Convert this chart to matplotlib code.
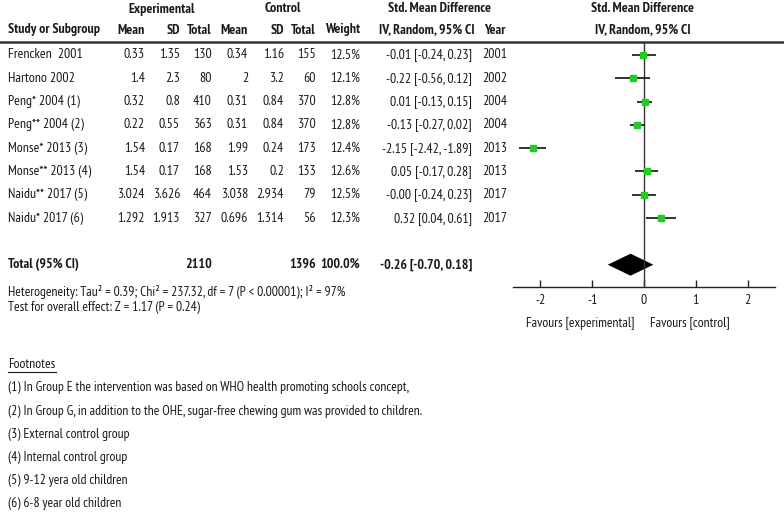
import matplotlib
matplotlib.use("Agg")
import matplotlib.pyplot as plt

plt.rcParams["font.family"] = ["PT Sans Narrow", "Archivo Narrow", "DejaVu Sans"]
plt.rcParams["font.stretch"] = "condensed"
plt.rcParams["font.size"] = 10

studies = ["Frencken  2001", "Hartono 2002", "Peng* 2004 (1)", "Peng** 2004 (2)",
           "Monse* 2013 (3)", "Monse** 2013 (4)", "Naidu** 2017 (5)", "Naidu* 2017 (6)"]
exp_mean = [0.33, 1.4, 0.32, 0.22, 1.54, 1.54, 3.024, 1.292]
exp_sd = [1.35, 2.3, 0.8, 0.55, 0.17, 0.17, 3.626, 1.913]
exp_n = [130, 80, 410, 363, 168, 168, 464, 327]
ctl_mean = [0.34, 2, 0.31, 0.31, 1.99, 1.53, 3.038, 0.696]
ctl_sd = [1.16, 3.2, 0.84, 0.84, 0.24, 0.2, 2.934, 1.314]
ctl_n = [155, 60, 370, 370, 173, 133, 79, 56]
weight = [12.5, 12.1, 12.8, 12.8, 12.4, 12.6, 12.5, 12.3]
smd = [-0.01, -0.22, 0.01, -0.13, -2.15, 0.05, -0.0, 0.32]
ci_lo = [-0.24, -0.56, -0.13, -0.27, -2.42, -0.17, -0.24, 0.04]
ci_hi = [0.23, 0.12, 0.15, 0.02, -1.89, 0.28, 0.23, 0.61]
years = [2001, 2002, 2004, 2004, 2013, 2013, 2017, 2017]

total_exp, total_ctl = 2110, 1396
pooled, pooled_lo, pooled_hi = -0.26, -0.70, 0.18
x_ticks = [-2, -1, 0, 1, 2]

footnotes = ["(1) In Group E the intervention was based on WHO health promoting schools concept,",
             "(2) In Group G, in addition to the OHE, sugar-free chewing gum was provided to children.",
             "(3) External control group",
             "(4) Internal control group",
             "(5) 9-12 yera old children",
             "(6) 6-8 year old children"]

W, H = 784, 513
TXT = "#1a1a1a"
SMALL = 9.8
fig = plt.figure(figsize=(W / 100, H / 100), dpi=100)
fig.patch.set_facecolor("white")

# text layer in pixel coords (y down)
ax = fig.add_axes([0, 0, 1, 1])
ax.set_xlim(0, W); ax.set_ylim(H, 0); ax.axis("off")


def row_y(i):
    return 55 + i * 23.3


def t(x, y, s, ha="left", bold=False, **kw):
    ax.text(x, y, s, ha=ha, va="center", color=TXT,
            fontweight="bold" if bold else "normal", **kw)


# headers
t(162, 9, "Experimental", ha="center", bold=True)
t(283, 9, "Control", ha="center", bold=True)
t(440, 9, "Std. Mean Difference", ha="center", bold=True)
t(643, 9, "Std. Mean Difference", ha="center", bold=True)
t(8, 30, "Study or Subgroup", bold=True)
for xr, lab in [(145, "Mean"), (180, "SD"), (212, "Total"), (248, "Mean"),
                (284, "SD"), (316, "Total"), (360, "Weight"),
                (475, "IV, Random, 95% CI"), (505, "Year")]:
    t(xr, 30, lab, ha="right", bold=True)
t(643, 30, "IV, Random, 95% CI", ha="center", bold=True)
ax.plot([0, W], [42, 42], color="#333333", lw=1.8)

# study rows
for i, name in enumerate(studies):
    y = row_y(i)
    t(8, y, name)
    t(145, y, f"{exp_mean[i]:g}", ha="right")
    t(180, y, f"{exp_sd[i]:g}", ha="right")
    t(212, y, f"{exp_n[i]}", ha="right")
    t(248, y, f"{ctl_mean[i]:g}", ha="right")
    t(284, y, f"{ctl_sd[i]:g}", ha="right")
    t(316, y, f"{ctl_n[i]}", ha="right")
    t(360, y, f"{weight[i]:.1f}%", ha="right")
    t(472, y, f"{smd[i]:.2f} [{ci_lo[i]:.2f}, {ci_hi[i]:.2f}]", ha="right")
    t(482, y, f"{years[i]}")

# total row
yt = row_y(9)
t(8, yt, "Total (95% CI)", bold=True)
t(212, yt, f"{total_exp}", ha="right", bold=True)
t(316, yt, f"{total_ctl}", ha="right", bold=True)
t(360, yt, "100.0%", ha="right", bold=True)
t(472, yt, f"{pooled:.2f} [{pooled_lo:.2f}, {pooled_hi:.2f}]", ha="right", bold=True)

t(8, 292, "Heterogeneity: Tau² = 0.39; Chi² = 237.32, df = 7 (P < 0.00001); I² = 97%", fontsize=SMALL)
t(8, 308, "Test for overall effect: Z = 1.17 (P = 0.24)", fontsize=SMALL)

t(635, 323, "Favours [experimental]", ha="right", fontsize=SMALL)
t(650, 323, "Favours [control]", fontsize=SMALL)

# footnotes
t(8, 365, "Footnotes", fontsize=SMALL)
ax.plot([8, 56], [372, 372], color=TXT, lw=0.8)
for k, fn in enumerate(footnotes):
    t(8, 388 + k * 23.1, fn, fontsize=SMALL)

# forest plot axes
x0, x1, y0, y1 = 513, 775, 42, 287
fa = fig.add_axes([x0 / W, 1 - y1 / H, (x1 - x0) / W, (y1 - y0) / H])
fa.set_xlim(-2.53, 2.53); fa.set_ylim(y1, y0)
fa.patch.set_alpha(0)
for s in ["top", "right", "left"]:
    fa.spines[s].set_visible(False)
fa.spines["bottom"].set_color("#222222"); fa.spines["bottom"].set_linewidth(1.0)
fa.set_yticks([])
fa.set_xticks(x_ticks)
fa.set_xticklabels([f"{v}" for v in x_ticks], fontsize=10, color=TXT)
fa.tick_params(axis="x", direction="in", length=5, width=1, pad=5, color="#222222")
fa.axvline(0, color="#333333", lw=1.0)

for i in range(len(studies)):
    y = row_y(i)
    fa.plot([ci_lo[i], ci_hi[i]], [y, y], color="#111111", lw=1.2, solid_capstyle="butt")
    fa.plot(smd[i], y, marker="s", color="#22cc22", ms=weight[i] * 0.32, mec="#22cc22")

fa.fill([pooled_lo, pooled, pooled_hi, pooled], [yt, yt - 11, yt, yt + 11],
        color="black", lw=0)

fig.savefig("out.png", dpi=100, facecolor="white")
